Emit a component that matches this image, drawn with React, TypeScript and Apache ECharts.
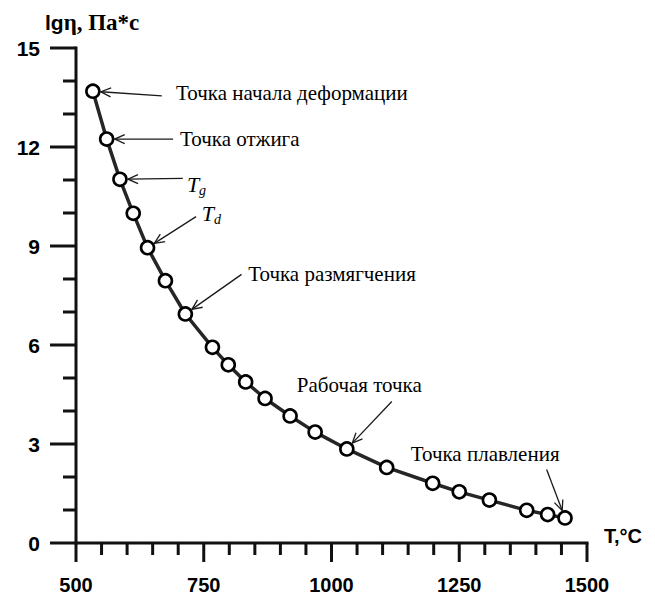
import React, { useEffect, useRef } from "react";
import * as echarts from "echarts";

const temperatures = [533, 560, 586, 612, 640, 675, 714, 767, 798, 832, 870, 919, 968, 1030, 1108, 1198, 1250, 1309, 1382, 1423, 1457];
const logViscosity = [13.69, 12.24, 11.02, 9.99, 8.95, 7.95, 6.94, 5.93, 5.4, 4.88, 4.38, 3.85, 3.36, 2.85, 2.29, 1.81, 1.55, 1.3, 0.99, 0.86, 0.76];

const xRange = { min: 500, max: 1500, interval: 250 };
const yRange = { min: 0, max: 15, interval: 3 };
const xMajorTicks = [500, 750, 1000, 1250, 1500];
const xMinorTicks = [550, 600, 650, 700, 800, 850, 900, 950, 1050, 1100, 1150, 1200, 1300, 1350, 1400, 1450];
const yMajorTicks = [0, 3, 6, 9, 12, 15];
const yMinorTicks = [1, 2, 4, 5, 7, 8, 10, 11, 13, 14];

// annotations: label, text anchor (data coords), arrow start (data coords), target point index
const annLabels = ["Точка начала деформации", "Точка отжига", "T|g", "T|d", "Точка размягчения", "Рабочая точка", "Точка плавления"];
const annTextPos: [number, number][] = [[695.7, 13.64], [703.5, 12.24], [717, 10.87], [746, 9.99], [837, 8.14], [932, 4.79], [1155, 2.7]];
const annArrowStart: [number, number][] = [[668, 13.55], [690, 12.24], [709, 11.05], [735, 9.89], [824, 8.14], [1118, 4.29], [1421, 2.23]];
const annTarget = [0, 1, 2, 4, 6, 13, 20];

export default function App() {
  const ref = useRef<HTMLDivElement>(null);
  useEffect(() => {
    if (!ref.current) return;
    const chart = echarts.init(ref.current, null, { renderer: "svg" });
    const arrowColor = "#1a1a1a";
    const serif = "Liberation Serif, Times New Roman";
    const W = 3;
    const fillBlack = { fill: "#111111", stroke: "none" };

    const renderAxes = (_params: any, api: any) => {
      const children: any[] = [];
      const origin = api.coord([xRange.min, yRange.min]);
      const xEnd = api.coord([xRange.max, yRange.min]);
      const yEnd = api.coord([xRange.min, yRange.max]);
      // x axis line
      children.push({
        type: "rect",
        shape: { x: origin[0] - W / 2, y: origin[1] - W / 2, width: xEnd[0] - origin[0] + W, height: W },
        style: fillBlack,
      });
      // y axis line
      children.push({
        type: "rect",
        shape: { x: origin[0] - W / 2, y: yEnd[1] - W / 2, width: W, height: origin[1] - yEnd[1] + W },
        style: fillBlack,
      });
      const xTick = (v: number, len: number) => {
        const p = api.coord([v, yRange.min]);
        children.push({ type: "rect", shape: { x: p[0] - W / 2, y: p[1], width: W, height: len }, style: fillBlack });
      };
      const yTick = (v: number, len: number) => {
        const p = api.coord([xRange.min, v]);
        children.push({ type: "rect", shape: { x: p[0] - len, y: p[1] - W / 2, width: len, height: W }, style: fillBlack });
      };
      xMajorTicks.forEach((v) => xTick(v, 19));
      xMinorTicks.forEach((v) => xTick(v, 12));
      yMajorTicks.forEach((v) => yTick(v, 26));
      yMinorTicks.forEach((v) => yTick(v, 13));
      return { type: "group", children };
    };

    const renderAnnotation = (params: any, api: any) => {
      const i = params.dataIndex;
      const label = annLabels[i];
      const tp = api.coord(annTextPos[i]);
      const sp = api.coord(annArrowStart[i]);
      const k = annTarget[i];
      const pp = api.coord([temperatures[k], logViscosity[k]]);
      const dx = sp[0] - pp[0];
      const dy = sp[1] - pp[1];
      const len = Math.sqrt(dx * dx + dy * dy);
      const ux = dx / len;
      const uy = dy / len;
      const tip = [pp[0] + ux * 8, pp[1] + uy * 8];
      const headLen = 11;
      const ang = 0.42;
      const rot = (a: number) => [ux * Math.cos(a) - uy * Math.sin(a), ux * Math.sin(a) + uy * Math.cos(a)];
      const r1 = rot(ang);
      const r2 = rot(-ang);
      let textEl: any;
      if (label.includes("|")) {
        const [main, sub] = label.split("|");
        textEl = {
          type: "text",
          x: tp[0],
          y: tp[1],
          style: {
            text: `{m|${main}}{s|${sub}}`,
            verticalAlign: "middle",
            rich: {
              m: { fontFamily: serif, fontStyle: "italic", fontSize: 22, fill: "#000" },
              s: { fontFamily: serif, fontStyle: "italic", fontSize: 14, fill: "#000", padding: [12, 0, 0, 0] },
            },
          },
        };
      } else {
        textEl = {
          type: "text",
          x: tp[0],
          y: tp[1],
          style: { text: label, fontFamily: serif, fontSize: 21, fill: "#000", verticalAlign: "middle" },
        };
      }
      return {
        type: "group",
        children: [
          { type: "line", shape: { x1: sp[0], y1: sp[1], x2: tip[0], y2: tip[1] }, style: { stroke: arrowColor, lineWidth: 1.3 } },
          {
            type: "polyline",
            shape: {
              points: [
                [tip[0] + r1[0] * headLen, tip[1] + r1[1] * headLen],
                tip,
                [tip[0] + r2[0] * headLen, tip[1] + r2[1] * headLen],
              ],
            },
            style: { stroke: arrowColor, lineWidth: 1.3, fill: "none" },
          },
          textEl,
        ],
      };
    };

    chart.setOption({
      animation: false,
      grid: { left: 76, right: 68, top: 48, bottom: 54 },
      xAxis: {
        type: "value",
        min: xRange.min,
        max: xRange.max,
        interval: xRange.interval,
        axisLine: { show: false },
        axisTick: { show: false },
        splitLine: { show: false },
        axisLabel: {
          margin: 32,
          color: "#000",
          fontFamily: "Liberation Sans, Arial",
          fontWeight: "bold",
          fontSize: 20,
          formatter: (v: number) => String(v),
        },
      },
      yAxis: {
        type: "value",
        min: yRange.min,
        max: yRange.max,
        interval: yRange.interval,
        axisLine: { show: false },
        axisTick: { show: false },
        splitLine: { show: false },
        axisLabel: {
          margin: 36,
          color: "#000",
          fontFamily: "Liberation Sans, Arial",
          fontWeight: "bold",
          fontSize: 21,
          formatter: (v: number) => String(v),
        },
      },
      graphic: [
        {
          type: "text",
          left: 45,
          top: 11,
          style: {
            text: "{a|lg}{b|η, Па*с}",
            rich: {
              a: { fontFamily: "Liberation Sans, Arial", fontWeight: "bold", fontSize: 21, fill: "#000" },
              b: { fontFamily: serif, fontWeight: "bold", fontSize: 23, fill: "#000" },
            },
          },
        },
        {
          type: "text",
          left: 604,
          top: 526,
          style: { text: "T,°C", fontFamily: "Liberation Sans, Arial", fontWeight: "bold", fontSize: 20, fill: "#000" },
        },
      ],
      series: [
        {
          type: "line",
          z: 3,
          data: temperatures.map((t, i) => [t, logViscosity[i]]),
          lineStyle: { color: "#262626", width: 3.5 },
          symbol: "circle",
          symbolSize: 13,
          itemStyle: { color: "#fff", borderColor: "#000", borderWidth: 2.6 },
        },
        {
          type: "custom",
          clip: false,
          silent: true,
          z: 20,
          data: [[xRange.min, yRange.min]],
          renderItem: renderAxes,
        },
        {
          type: "custom",
          clip: false,
          silent: true,
          z: 10,
          data: annLabels.map((_, i) => [annTextPos[i][0], annTextPos[i][1]]),
          renderItem: renderAnnotation,
        },
      ],
    });
    return () => chart.dispose();
  }, []);
  return <div ref={ref} style={{ position: "absolute", left: 0, top: 0, width: 655, height: 597 }} />;
}
